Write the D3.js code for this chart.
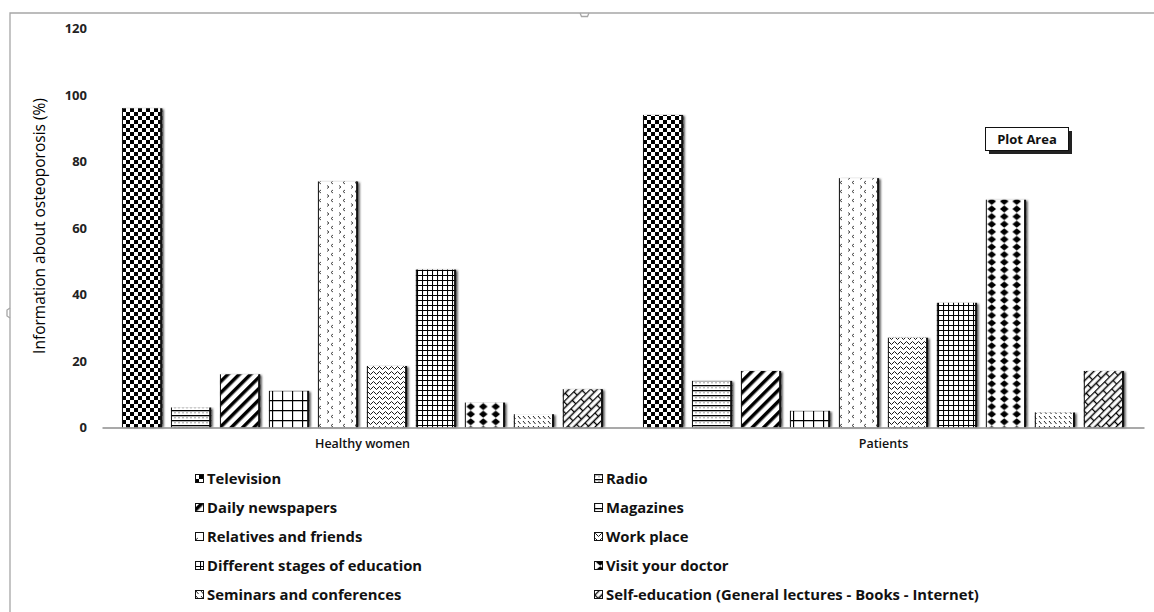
<!DOCTYPE html>
<html>
<head>
<meta charset="utf-8">
<script src="https://cdn.jsdelivr.net/npm/d3@7"></script>
<style>
  body { margin: 0; background: #fff; }
  svg { display: block; font-family: "Open Sans", sans-serif; }
</style>
</head>
<body>
<div id="canvas"></div>
<script>
"use strict";

/* -------------------- Data -------------------- */

let groups = ["Healthy women", "Patients"];

let sources = [
    "Television",
    "Radio",
    "Daily newspapers",
    "Magazines",
    "Relatives and friends",
    "Work place",
    "Different stages of education",
    "Visit your doctor",
    "Seminars and conferences",
    "Self-education (General lectures - Books - Internet)"
];

let healthyValues = [96, 6, 16, 11, 74, 18.5, 47.5, 7.5, 4, 11.5];
let patientValues = [94, 14, 17, 5, 75, 27, 37.5, 68.5, 4.5, 17];

let yTicks = [0, 20, 40, 60, 80, 100, 120];

/* -------------------- Setup -------------------- */

let svgWidth = 1154;
let svgHeight = 612;

let svg = d3.select("#canvas")
    .append("svg")
    .attr("width", svgWidth)
    .attr("height", svgHeight);

let defs = svg.append("defs");

/* soft shadow for the bars */
defs.append("filter")
    .attr("id", "soft")
    .attr("x", "-20%").attr("y", "-5%")
    .attr("width", "140%").attr("height", "110%")
    .append("feGaussianBlur")
    .attr("stdDeviation", 1);

/* helper to make a fill pattern */
function addPattern(id, w, h, transform) {
    let p = defs.append("pattern")
        .attr("id", id)
        .attr("patternUnits", "userSpaceOnUse")
        .attr("width", w)
        .attr("height", h);
    if (transform) p.attr("patternTransform", transform);
    p.append("rect")
        .attr("width", w)
        .attr("height", h)
        .attr("fill", "white");
    return p;
}

/* Television: checkerboard */
let p0 = addPattern("p0", 8, 8);
p0.append("rect").attr("x", 0).attr("y", 0).attr("width", 4).attr("height", 4).attr("fill", "black");
p0.append("rect").attr("x", 4).attr("y", 4).attr("width", 4).attr("height", 4).attr("fill", "black");

/* Radio: horizontal lines */
let p1 = addPattern("p1", 8, 5);
p1.append("rect").attr("x", 0).attr("y", 0).attr("width", 8).attr("height", 1.3).attr("fill", "black");
p1.append("line").attr("x1", 0).attr("x2", 8).attr("y1", 2.8).attr("y2", 2.8)
    .attr("stroke", "#888").attr("stroke-width", 0.8).attr("stroke-dasharray", "2,2");

/* Daily newspapers: wide diagonal stripes */
let p2 = addPattern("p2", 8, 8, "rotate(45)");
p2.append("rect").attr("x", 0).attr("y", 0).attr("width", 3.5).attr("height", 8).attr("fill", "black");

/* Magazines: large grid */
let p3 = addPattern("p3", 10, 10);
p3.append("path").attr("d", "M0.5,0V10M0,0.5H10")
    .attr("stroke", "black").attr("stroke-width", 1.3).attr("fill", "none");

/* Relatives and friends: small chevrons */
let p4 = addPattern("p4", 12, 9);
p4.append("path").attr("d", "M3,1L1,2.5L3,4M9,5.5L11,7L9,8.5")
    .attr("stroke", "#333").attr("stroke-width", 0.9).attr("fill", "none");

/* Work place: waves */
let p5 = addPattern("p5", 6, 5);
p5.append("path").attr("d", "M0,3L1.5,1.5L3,3L4.5,4.5L6,3")
    .attr("stroke", "black").attr("stroke-width", 0.9).attr("fill", "none");

/* Different stages of education: small grid */
let p6 = addPattern("p6", 5, 5);
p6.append("path").attr("d", "M0.5,0V5M0,0.5H5")
    .attr("stroke", "black").attr("stroke-width", 1.1).attr("fill", "none");

/* Visit your doctor: diamonds */
let p7 = addPattern("p7", 12.5, 7.6);
p7.append("path").attr("d", "M6.25,0.2L10.6,3.8L6.25,7.4L1.9,3.8Z").attr("fill", "black");

/* Seminars and conferences: short dashes */
let p8 = addPattern("p8", 5, 5);
p8.append("path").attr("d", "M1,1L3.5,4")
    .attr("stroke", "#222").attr("stroke-width", 1).attr("fill", "none");

/* Self-education: diagonal bricks */
let p9 = addPattern("p9", 14, 10, "rotate(-45)");
p9.append("path").attr("d", "M0,0.5H14M0,5.5H14M0.5,0.5V5.5M7.5,5.5V10")
    .attr("stroke", "black").attr("stroke-width", 1.3).attr("fill", "none");

let patternIds = ["p0", "p1", "p2", "p3", "p4", "p5", "p6", "p7", "p8", "p9"];

/* -------------------- Frame -------------------- */

svg.append("path")
    .attr("d", "M10,612V13H1154")
    .attr("fill", "none")
    .attr("stroke", "#a6a6a6")
    .attr("stroke-width", 1.3);

/* little handles on the frame */
svg.append("path")
    .attr("d", "M580,13L581.5,16.5H587.5L589,13")
    .attr("fill", "none").attr("stroke", "#a6a6a6").attr("stroke-width", 1.3);
svg.append("path")
    .attr("d", "M10,308L7,310V316L10,318")
    .attr("fill", "none").attr("stroke", "#a6a6a6").attr("stroke-width", 1.3);

/* -------------------- Scales -------------------- */

let yScale = d3.scaleLinear()
    .domain([0, 120])
    .range([427.5, 28.5]);

let x0 = d3.scaleBand()
    .domain(groups)
    .range([102, 1144]);

let x1 = d3.scaleBand()
    .domain(sources)
    .range([20, x0.bandwidth() - 20])
    .paddingInner(0.18);

let rows = groups.map(function (g, gi) {
    let vals = gi === 0 ? healthyValues : patientValues;
    return sources.map(function (s, si) {
        return { group: g, source: s, value: vals[si], idx: si };
    });
});

/* -------------------- Bars -------------------- */

let groupSel = svg.selectAll("g.group")
    .data(rows)
    .join("g")
    .attr("class", "group")
    .attr("transform", function (d, i) {
        return "translate(" + x0(groups[i]) + ",0)";
    });

let barSel = groupSel.selectAll("g.bar")
    .data(function (d) { return d; })
    .join("g")
    .attr("class", "bar");

/* shadow */
barSel.append("rect")
    .attr("x", function (d) { return x1(d.source) + 1.5; })
    .attr("y", function (d) { return yScale(d.value) + 1; })
    .attr("width", x1.bandwidth())
    .attr("height", function (d) { return yScale(0) - yScale(d.value) - 1; })
    .attr("fill", "#444")
    .attr("filter", "url(#soft)");

barSel.append("rect")
    .attr("x", function (d) { return x1(d.source); })
    .attr("y", function (d) { return yScale(d.value); })
    .attr("width", x1.bandwidth())
    .attr("height", function (d) { return yScale(0) - yScale(d.value); })
    .attr("fill", function (d) { return "url(#" + patternIds[d.idx] + ")"; });

/* dark side edges */
barSel.append("line")
    .attr("x1", function (d) { return x1(d.source) + 0.5; })
    .attr("x2", function (d) { return x1(d.source) + 0.5; })
    .attr("y1", function (d) { return yScale(d.value); })
    .attr("y2", yScale(0))
    .attr("stroke", "#111")
    .attr("stroke-width", 1);

barSel.append("line")
    .attr("x1", function (d) { return x1(d.source) + x1.bandwidth() - 1; })
    .attr("x2", function (d) { return x1(d.source) + x1.bandwidth() - 1; })
    .attr("y1", function (d) { return yScale(d.value); })
    .attr("y2", yScale(0))
    .attr("stroke", "#111")
    .attr("stroke-width", 2);

/* -------------------- Axes -------------------- */

let yAxis = svg.append("g")
    .attr("transform", "translate(103,0)")
    .call(d3.axisLeft(yScale).tickValues(yTicks).tickSize(0).tickPadding(16));

yAxis.select(".domain").remove();
yAxis.selectAll("text")
    .attr("font-family", "Open Sans")
    .attr("font-size", 13)
    .attr("font-weight", "bold")
    .attr("fill", "#222");

let xAxis = svg.append("g")
    .attr("transform", "translate(0," + yScale(0) + ")")
    .call(d3.axisBottom(x0).tickSize(0).tickPadding(12));

xAxis.select(".domain")
    .attr("stroke", "#8c8c8c")
    .attr("stroke-width", 1.3);
xAxis.selectAll("text")
    .attr("font-family", "Open Sans")
    .attr("font-size", 12.5)
    .attr("font-weight", "600")
    .attr("fill", "#111");

/* Y axis title */
svg.append("text")
    .attr("transform", "translate(45,226) rotate(-90)")
    .attr("text-anchor", "middle")
    .attr("font-size", 15.5)
    .attr("font-weight", "500")
    .attr("fill", "#000")
    .text("Information about osteoporosis (%)");

/* -------------------- Plot Area tag -------------------- */

svg.append("rect")
    .attr("x", 989).attr("y", 131)
    .attr("width", 83).attr("height", 23)
    .attr("fill", "#222");
svg.append("rect")
    .attr("x", 985.5).attr("y", 127.5)
    .attr("width", 83).attr("height", 23)
    .attr("fill", "white")
    .attr("stroke", "#111");
svg.append("text")
    .attr("x", 1027).attr("y", 139)
    .attr("dy", "0.35em")
    .attr("text-anchor", "middle")
    .attr("font-size", 13)
    .attr("font-weight", "bold")
    .attr("fill", "#111")
    .text("Plot Area");

/* -------------------- Legend -------------------- */

let legend = svg.selectAll("g.legend")
    .data(sources)
    .join("g")
    .attr("class", "legend")
    .attr("transform", function (d, i) {
        let lx = i % 2 === 0 ? 195 : 594;
        let ly = 479 + Math.floor(i / 2) * 29;
        return "translate(" + lx + "," + ly + ")";
    });

legend.append("rect")
    .attr("x", 0.5).attr("y", -4.5)
    .attr("width", 8).attr("height", 8)
    .attr("fill", function (d, i) { return "url(#" + patternIds[i] + ")"; })
    .attr("stroke", "#111")
    .attr("stroke-width", 1);

legend.append("text")
    .attr("x", 12)
    .attr("y", 0)
    .attr("dy", "0.35em")
    .attr("font-size", 14.8)
    .attr("font-weight", "bold")
    .attr("fill", "#111")
    .text(function (d) { return d; });
</script>
</body>
</html>
